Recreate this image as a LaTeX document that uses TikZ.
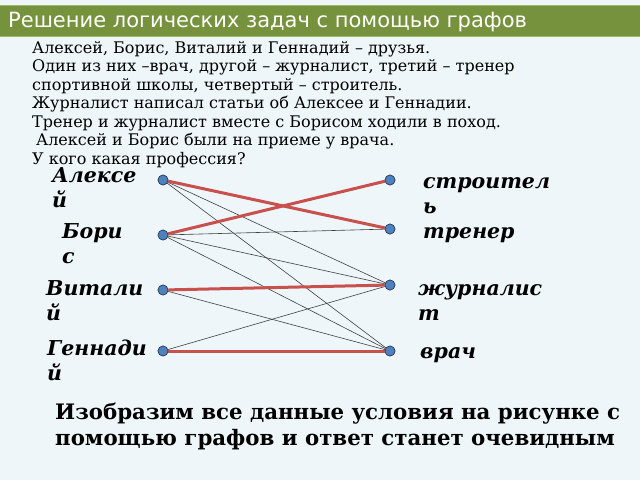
\documentclass[tikz,border=0pt]{standalone}
\usepackage{fontspec}
\setmainfont{DejaVu Serif}
\newfontfamily\titlefont{DejaVu Sans}
\usetikzlibrary{positioning}

\definecolor{bgblue}{RGB}{238,246,249}
\definecolor{barolive}{RGB}{118,146,60}
\definecolor{barlight}{RGB}{160,187,110}
\definecolor{ptblue}{RGB}{79,129,189}
\definecolor{ptline}{RGB}{40,60,100}
\definecolor{answred}{RGB}{200,80,77}

\tikzset{
  vertex/.style={circle,draw=ptline,fill=ptblue,line width=0.6pt,minimum size=10pt,inner sep=0pt},
  namelbl/.style={anchor=base west,inner sep=0pt,align=left,
    font=\fontsize{20.5}{25}\selectfont\bfseries\itshape},
  answer/.style={draw=answred,line width=3pt},
  maybe/.style={draw=black!75,line width=0.6pt}
}

\begin{document}
\begin{tikzpicture}[x=1pt,y=-1pt]

  \useasboundingbox (0,0) rectangle (640,480);
  \fill [bgblue] (0,0) rectangle (640,480);

  % title bar
  \fill [barlight] (0,5) rectangle (640,37);
  \fill [barolive] (0,6) rectangle (640,36);
  \node [anchor=base west,inner sep=0pt,text=white,font=\titlefont\fontsize{21}{24}\selectfont] (title) at (8,27)
    {Решение логических задач с помощью графов};

  % statement (base = last line)
  \node [anchor=base west,inner sep=0pt,align=left,font=\fontsize{16}{18.5}\selectfont] (task) at (32,164)
    {Алексей, Борис, Виталий и Геннадий – друзья.\\
     Один из них –врач, другой – журналист, третий – тренер\\
     спортивной школы, четвертый – строитель.\\
     Журналист написал статьи об Алексее и Геннадии.\\
     Тренер и журналист вместе с Борисом ходили в поход.\\
     \hspace{4pt}Алексей и Борис были на приеме у врача.\\
     У кого какая профессия?};

  % people
  \node [vertex] (p_A) at (163,180) {};
  \node [vertex] (p_B) at (163,235) {};
  \node [vertex] (p_V) at (163,290) {};
  \node [vertex] (p_G) at (163,351) {};

  % professions
  \node [vertex] (j_str)  at (390,180) {};
  \node [vertex] (j_tren) at (390,229) {};
  \node [vertex] (j_zhur) at (390,285) {};
  \node [vertex] (j_vr)   at (390,351) {};

  \node [namelbl] (lab_A) at (52,207)  {Алексе\\й};
  \node [namelbl] (lab_B) at (62,263)  {Бори\\с};
  \node [namelbl] (lab_V) at (46,320)  {Витали\\й};
  \node [namelbl] (lab_G) at (47,380)  {Геннади\\й};

  \node [namelbl] (lab_str)  at (423,213) {строител\\ь};
  \node [namelbl] (lab_tren) at (423,238) {тренер};
  \node [namelbl] (lab_zhur) at (418,320) {журналис\\т};
  \node [namelbl] (lab_vr)   at (420,358) {врач};

  \path [maybe]
    (p_A) edge (j_zhur)
    (p_A) edge (j_vr)
    (p_B) edge (j_tren)
    (p_B) edge (j_zhur)
    (p_B) edge (j_vr)
    (p_V) edge (j_vr)
    (p_G) edge (j_zhur);

  \path [answer]
    (p_A) edge (j_tren)
    (p_B) edge (j_str)
    (p_V) edge (j_zhur)
    (p_G) edge (j_vr);

  % redraw the points over the lines
  \foreach \n in {p_A,p_B,p_V,p_G,j_str,j_tren,j_zhur,j_vr}
    \node [vertex] at (\n) {};

  \node [anchor=base west,inner sep=0pt,align=left,font=\fontsize{21.3}{25.5}\selectfont\bfseries] (outro) at (55,445)
    {Изобразим все данные условия на рисунке с\\
     помощью графов и ответ станет очевидным};

\end{tikzpicture}
\end{document}
